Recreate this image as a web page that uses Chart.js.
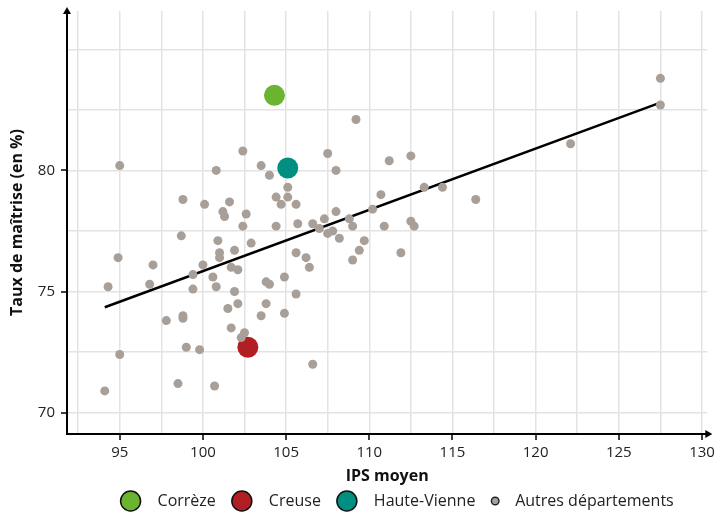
<!DOCTYPE html>
<html lang="fr">
<head>
<meta charset="utf-8">
<title>Taux de maîtrise et IPS moyen</title>
<script src="https://cdn.jsdelivr.net/npm/chart.js@4.4.1/dist/chart.umd.min.js"></script>
<style>
  html, body { margin: 0; padding: 0; background: #fff; }
  #wrap { width: 725px; height: 513px; }
</style>
</head>
<body>
<div id="wrap"><canvas id="chart" width="725" height="513"></canvas></div>
<script>
/* ================= DATA ================= */

// autres départements : IPS moyen / taux de maîtrise (%)
const autresIps = [
  94.1, 94.3, 94.9, 95.0, 95.0, 96.8, 97.0, 97.8, 98.5, 98.7,
  98.8, 98.8, 98.8, 99.0, 99.4, 99.4, 99.8, 100.0, 100.1, 100.6,
  100.7, 100.8, 100.8, 100.9, 101.0, 101.0, 101.2, 101.3, 101.5, 101.6,
  101.7, 101.7, 101.9, 101.9, 102.1, 102.1, 102.3, 102.4, 102.4, 102.5,
  102.6, 102.9, 103.5, 103.5, 103.8, 103.8, 104.0, 104.0, 104.4, 104.4,
  104.7, 104.9, 104.9, 105.1, 105.1, 105.6, 105.7, 105.6, 105.6, 106.2,
  106.4, 106.6, 106.6, 107.0, 107.3, 107.5, 107.5, 107.8, 108.0, 108.0,
  108.2, 108.8, 109.0, 109.0, 109.2, 109.4, 109.7, 110.2, 110.7, 110.9,
  111.2, 111.9, 112.5, 112.5, 112.7, 113.3, 114.4, 116.4, 122.1, 127.5,
  127.5,
];
const autresTaux = [
  70.9, 75.2, 76.4, 80.2, 72.4, 75.3, 76.1, 73.8, 71.2, 77.3,
  78.8, 74.0, 73.9, 72.7, 75.7, 75.1, 72.6, 76.1, 78.6, 75.6,
  71.1, 80.0, 75.2, 77.1, 76.6, 76.4, 78.3, 78.1, 74.3, 78.7,
  76.0, 73.5, 76.7, 75.0, 75.9, 74.5, 73.1, 77.7, 80.8, 73.3,
  78.2, 77.0, 80.2, 74.0, 75.4, 74.5, 75.3, 79.8, 78.9, 77.7,
  78.6, 75.6, 74.1, 79.3, 78.9, 78.6, 77.8, 76.6, 74.9, 76.4,
  76.0, 77.8, 72.0, 77.6, 78.0, 80.7, 77.4, 77.5, 80.0, 78.3,
  77.2, 78.0, 77.7, 76.3, 82.1, 76.7, 77.1, 78.4, 79.0, 77.7,
  80.4, 76.6, 80.6, 77.9, 77.7, 79.3, 79.3, 78.8, 81.1, 83.8,
  82.7,
];

// départements mis en avant
const focusNames = ["Corrèze", "Creuse", "Haute-Vienne"];
const focusIps = [104.3, 102.7, 105.1];
const focusTaux = [83.1, 72.7, 80.1];

// droite de tendance (extrémités)
const trendIps = [94.1, 127.5];
const trendTaux = [74.35, 82.8];

const autresLabel = "Autres départements";
const xTickLabels = [95, 100, 105, 110, 115, 120, 125, 130];
const yTickLabels = [70, 75, 80];

/* ================= STYLE ================= */

const focusColors = ["#6ab42f", "#b11f24", "#008f80"];
const grey = "#a89f99";
const gridColor = "#e3e3e3";
const FONT = "'Open Sans', sans-serif";

Chart.defaults.font.family = FONT;
Chart.defaults.color = "#222";

function el(id) {
  return document.getElementById(id);
}

const toPoints = (xs, ys) => xs.map((v, i) => ({ x: v, y: ys[i] }));

/* -------- axes : lines, tick marks, arrows -------- */
const axisDecor = {
  id: "axisDecor",
  afterDraw(chart) {
    const { ctx, chartArea: a } = chart;
    const x = chart.scales.x;
    const y = chart.scales.y;
    ctx.save();
    ctx.strokeStyle = "#000";
    ctx.fillStyle = "#000";
    ctx.lineWidth = 1.5;
    xTickLabels.forEach((v) => {
      const px = Math.round(x.getPixelForValue(v));
      ctx.beginPath();
      ctx.moveTo(px, a.bottom);
      ctx.lineTo(px, a.bottom + 6);
      ctx.stroke();
    });
    yTickLabels.forEach((v) => {
      const py = Math.round(y.getPixelForValue(v));
      ctx.beginPath();
      ctx.moveTo(a.left - 6, py);
      ctx.lineTo(a.left, py);
      ctx.stroke();
    });

    ctx.lineWidth = 2;
    ctx.beginPath();
    ctx.moveTo(a.left, a.top + 2);
    ctx.lineTo(a.left, a.bottom);
    ctx.lineTo(a.right, a.bottom);
    ctx.stroke();

    // arrow heads
    ctx.beginPath();
    ctx.moveTo(a.right + 5, a.bottom);
    ctx.lineTo(a.right - 2, a.bottom - 4);
    ctx.lineTo(a.right - 2, a.bottom + 4);
    ctx.closePath();
    ctx.fill();
    ctx.beginPath();
    ctx.moveTo(a.left, a.top - 4);
    ctx.lineTo(a.left - 4, a.top + 3);
    ctx.lineTo(a.left + 4, a.top + 3);
    ctx.closePath();
    ctx.fill();
    ctx.restore();
  },
};

/* -------- legend (markers of different sizes) -------- */
const legendItems = focusNames
  .map((name, i) => ({ text: name, r: 10, gap: 27, fill: focusColors[i], stroke: "#111", lw: 1.5 }))
  .concat([{ text: autresLabel, r: 3.8, gap: 20, fill: grey, stroke: "#222", lw: 1.4 }]);

const markerLegend = {
  id: "markerLegend",
  afterDraw(chart) {
    const { ctx, chartArea: a } = chart;
    const spacing = 16;
    ctx.save();
    ctx.font = "16px " + FONT;
    ctx.textBaseline = "middle";
    const widths = legendItems.map((it) => it.r + it.gap + ctx.measureText(it.text).width);
    const total = widths.reduce((s, w) => s + w, 0) + spacing * (widths.length - 1);
    const cy = a.bottom + 67;
    let x = (a.left + a.right) / 2 + 10 - total / 2;
    legendItems.forEach((it, i) => {
      const cx = x + it.r;
      ctx.beginPath();
      ctx.arc(cx, cy, it.r, 0, Math.PI * 2);
      ctx.fillStyle = it.fill;
      ctx.fill();
      ctx.lineWidth = it.lw;
      ctx.strokeStyle = it.stroke;
      ctx.stroke();
      ctx.fillStyle = "#222";
      ctx.fillText(it.text, cx + it.gap, cy);
      x += widths[i] + spacing;
    });
    ctx.restore();
  },
};

/* -------- chart -------- */
const datasets = [
  {
    label: autresLabel,
    data: toPoints(autresIps, autresTaux),
    backgroundColor: grey,
    borderWidth: 0,
    pointRadius: 4.5,
  },
  {
    label: "Tendance",
    data: toPoints(trendIps, trendTaux),
    showLine: true,
    borderColor: "#000",
    borderWidth: 2.5,
    pointRadius: 0,
  },
];
focusNames.forEach((name, i) => {
  datasets.push({
    label: name,
    data: toPoints([focusIps[i]], [focusTaux[i]]),
    backgroundColor: focusColors[i],
    borderWidth: 0,
    pointRadius: 10.5,
  });
});

new Chart(el("chart"), {
  type: "scatter",
  data: { datasets },
  plugins: [axisDecor, markerLegend],
  options: {
    responsive: false,
    animation: false,
    events: [],
    layout: { padding: { top: 11, right: 17, left: 0, bottom: 27 } },
    plugins: {
      tooltip: { enabled: false },
      legend: { display: false },
    },
    scales: {
      x: {
        type: "linear",
        min: 91.83,
        max: 130.32,
        afterFit(s) {
          s.height = 52;
        },
        border: { display: false },
        grid: { color: gridColor, lineWidth: 1.5, drawTicks: false },
        ticks: {
          stepSize: 2.5,
          includeBounds: false,
          autoSkip: false,
          maxRotation: 0,
          padding: 10,
          font: { size: 15 },
          callback: (v) => (xTickLabels.includes(v) ? String(v) : ""),
        },
        title: {
          display: true,
          text: "IPS moyen",
          font: { size: 16, weight: "bold" },
          color: "#111",
          padding: { top: 0, bottom: 0 },
        },
      },
      y: {
        type: "linear",
        min: 69.12,
        max: 86.58,
        afterFit(s) {
          s.width = 67;
          s.paddingTop = 0;
          s.paddingBottom = 0;
        },
        border: { display: false },
        grid: { color: gridColor, lineWidth: 1.5, drawTicks: false },
        ticks: {
          stepSize: 2.5,
          includeBounds: false,
          autoSkip: false,
          padding: 12,
          font: { size: 15 },
          callback: (v) => (yTickLabels.includes(v) ? String(v) : ""),
        },
        title: {
          display: true,
          text: "Taux de maîtrise (en %)",
          font: { size: 16, weight: "bold" },
          color: "#111",
          padding: { top: 8, bottom: 0 },
        },
      },
    },
  },
});
</script>
</body>
</html>
